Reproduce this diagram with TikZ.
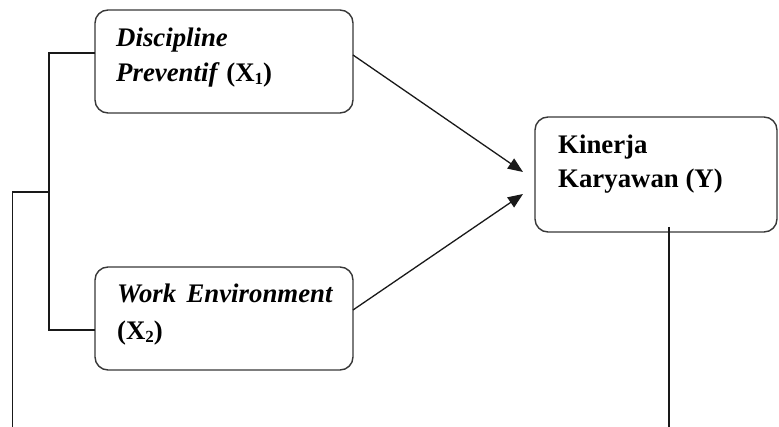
\documentclass[tikz,border=0pt]{standalone}
\usepackage{fontspec}
\setmainfont{Liberation Serif}
\usetikzlibrary{arrows.meta}
\tikzset{
  box/.style={draw=black!78, line width=1.4pt, rounded corners=13pt, fill=white, inner sep=0pt},
  lbl/.style={anchor=base west, inner sep=0pt, font=\fontsize{26.8}{34}\selectfont\bfseries},
  conn/.style={draw=black!90, line width=1.3pt},
  arr/.style={conn, -{Triangle[length=15pt,width=12pt]}}
}
\newcommand{\subsc}[1]{\raisebox{-3pt}{\fontsize{17}{17}\selectfont #1}}
\begin{document}
\begin{tikzpicture}[x=1pt,y=-1pt]
\useasboundingbox (0,0) rectangle (779,427);
\node[box, minimum width=258pt, minimum height=103pt] (b1) at (224,61.5) {};
\node[box, minimum width=258pt, minimum height=103pt] (b2) at (224,318.5) {};
\node[box, minimum width=242pt, minimum height=115pt] (b3) at (656,174.5) {};
\node[lbl] (t1a) at (116,47) {\itshape Discipline};
\node[lbl] (t1b) at (116,82) {\textit{Preventif} (X\subsc{1})};
\node[lbl] (t2a) at (117,303) {\makebox[216pt][s]{\textit{Work}\hfill\textit{Environment}}};
\node[lbl] (t2b) at (117,340) {(X\subsc{2})};
\node[lbl] (t3a) at (558,154) {Kinerja};
\node[lbl] (t3b) at (558,188) {Karyawan (Y)};
% connector points
\coordinate (a1s) at (353,55);
\coordinate (a1e) at (523,172);
\coordinate (a2s) at (353,310);
\coordinate (a2e) at (523,194);
\coordinate (l1) at (95,53);
\coordinate (l2) at (95,330);
\coordinate (bx) at (49,192);
\coordinate (lb) at (12.5,427);
\coordinate (rs) at (669,227);
\coordinate (rb) at (669,427);
\draw[arr] (a1s) -- (a1e);
\draw[arr] (a2s) -- (a2e);
\draw[conn] (l1) -- (49,53) -- (49,330) -- (l2);
\draw[conn] (bx) -- (12.5,192) -- (lb);
\draw[conn] (rs) -- (rb);
\end{tikzpicture}
\end{document}
